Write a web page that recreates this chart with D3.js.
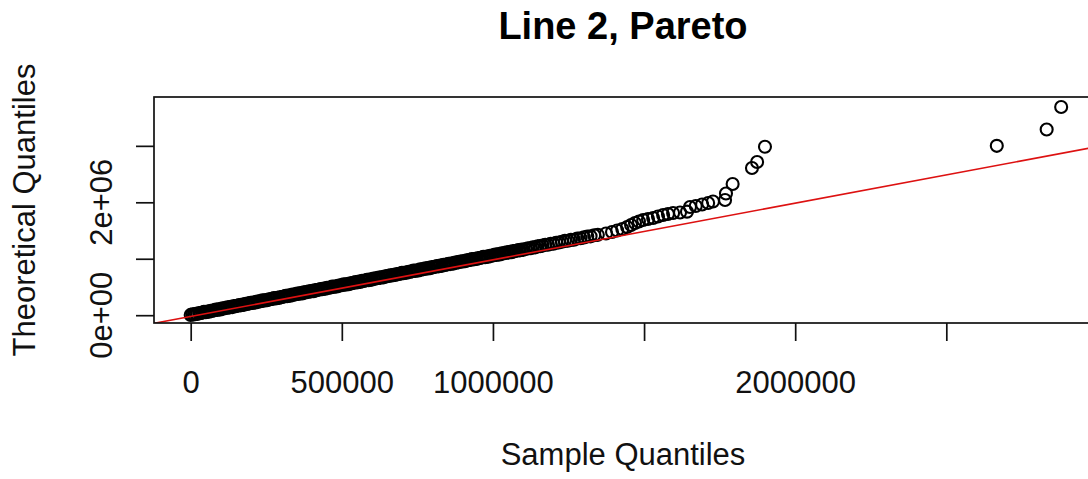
<!DOCTYPE html>
<html><head><meta charset="utf-8">
<script src="https://cdn.jsdelivr.net/npm/d3@7"></script>
<style>body{margin:0;background:#fff} svg{display:block}</style>
</head><body>
<svg id="c" width="1088" height="479"></svg>
<script>
const title = "Line 2, Pareto";
const xLabel = "Sample Quantiles";
const yLabel = "Theoretical Quantiles";
const xTicks = [0, 500000, 1000000, 1500000, 2000000, 2500000, 3000000];
const xTickLabels = ["0", "500000", "1000000", "", "2000000", "", ""];
const yTicks = [0, 1000000, 2000000, 3000000];
const yTickLabels = ["0e+00", "", "2e+06", ""];

// sample quantiles (thousands)
const sampleK = [
0,6,11,17,22,28,33,39,44,50,
55,61,66,72,77,83,88,94,99,105,
110,116,121,127,132,138,143,149,154,160,
165,171,176,182,187,193,198,204,209,215,
220,226,231,237,242,248,253,259,264,270,
275,281,286,292,297,303,308,314,319,325,
330,336,341,347,352,358,363,369,374,380,
385,391,396,402,407,413,418,424,429,435,
440,446,451,457,462,468,473,479,484,490,
495,501,506,512,517,523,528,534,539,545,
550,556,561,567,572,578,583,589,594,600,
605,611,616,622,627,633,638,644,649,655,
660,666,671,677,682,688,693,699,704,710,
715,721,726,732,737,743,748,754,759,765,
770,776,781,787,792,798,803,809,814,820,
825,831,836,842,847,853,858,864,869,875,
880,886,891,897,902,908,913,919,924,930,
935,941,946,952,957,963,968,974,979,985,
990,996,1001,1007,1012,1018,1023,1029,1034,1040,
1045,1051,1056,1062,1067,1073,1078,1084,1089,1095,
1100,1108,1116,1124,1132,1140,1148,1156,1164,1173,
1182,1191,1200,1209,1218,1228,1238,1248,1258,1268,
1279,1290,1301,1312,1323,1335,1347,
1374,1394,1411,1428,1444,1457,1470,1483,1497,1513,
1530,1546,1563,1579,1596,1619,1642,1652,1671,1692,
1712,1728,1768,1771,1793,1857,1874,1900,2667,2832,2880
];
// theoretical quantiles (thousands)
const theoK = [
5,18,12,26,20,40,38,46,58,53,
66,61,80,79,86,100,93,107,101,121,
119,127,140,134,147,143,161,160,167,181,
174,188,183,202,200,209,221,215,228,224,
242,241,249,262,255,270,264,283,282,290,
302,296,310,305,323,323,330,343,337,351,
345,364,363,371,383,378,391,386,405,404,
411,425,418,432,426,446,444,452,465,459,
472,468,486,485,492,506,499,513,508,527,
525,534,546,540,553,549,567,566,574,587,
580,595,589,608,606,615,627,621,635,630,
648,648,655,668,661,676,670,689,688,696,
708,703,716,711,730,729,736,749,743,757,
751,771,769,777,790,784,797,792,811,810,
817,831,824,838,833,852,850,858,871,865,
878,874,892,891,899,912,905,920,914,933,
931,940,952,946,960,955,973,973,980,993,
986,1001,995,1014,1013,1021,1033,1028,1041,1036,
1054,1054,1061,1074,1068,1082,1076,1096,1094,1102,
1114,1109,1122,1117,1136,1135,1142,1156,1149,1163,
1158,1174,1187,1187,1201,1202,1220,1223,1233,1248,
1248,1264,1265,1284,1288,1301,1316,1318,1334,1337,
1358,1364,1378,1394,1397,1415,1423,
1447,1474,1500,1527,1562,1598,1633,1660,1686,1704,
1722,1748,1775,1793,1811,1819,1834,1917,1934,1961,
1988,2014,2041,2156,2324,2608,2714,2985,3000,3290,3688
];
// reference line (qqline): intercept, slope
const lineIntercept = -21700;
const lineSlope = 1.003;

const svg = d3.select("#c");
const L = 154, R = 1092, T = 97, B = 323;
const x = d3.scaleLinear().domain([-121400, 2982000]).range([L, R]);
const y = d3.scaleLinear().domain([-138200, 3865400]).range([B, T]);
const font = "'Liberation Sans', Arial, Helvetica, sans-serif";
const ink = "#111";

svg.append("rect").attr("width", 1088).attr("height", 479).attr("fill", "#fff");

svg.append("defs").append("clipPath").attr("id", "clip")
  .append("rect").attr("x", L).attr("y", T).attr("width", R - L).attr("height", B - T);

const pts = sampleK.map((v, i) => ({sx: v * 1000, ty: theoK[i] * 1000}));

const plot = svg.append("g").attr("clip-path", "url(#clip)");
plot.selectAll("circle").data(pts).join("circle")
  .attr("cx", d => x(d.sx)).attr("cy", d => y(d.ty)).attr("r", 6)
  .attr("fill", "none").attr("stroke", "#000").attr("stroke-width", 2.1);

const [x0, x1] = x.domain();
plot.append("line")
  .attr("x1", x(x0)).attr("y1", y(lineIntercept + lineSlope * x0))
  .attr("x2", x(x1)).attr("y2", y(lineIntercept + lineSlope * x1))
  .attr("stroke", "#dd1111").attr("stroke-width", 1.6);

// box
svg.append("rect").attr("x", L).attr("y", T).attr("width", R - L).attr("height", B - T)
  .attr("fill", "none").attr("stroke", ink).attr("stroke-width", 1.7);

// x axis
const xa = svg.append("g").attr("transform", `translate(0,${B})`)
  .call(d3.axisBottom(x).tickValues(xTicks).tickFormat((d, i) => xTickLabels[i])
    .tickSize(18).tickPadding(30));
xa.select(".domain").remove();
xa.selectAll("line").attr("stroke", ink).attr("stroke-width", 1.7);
xa.selectAll("text").attr("font-family", font).attr("font-size", 31).attr("fill", ink);

// y axis
const ya = svg.append("g").attr("transform", `translate(${L},0)`)
  .call(d3.axisLeft(y).tickValues(yTicks).tickFormat("").tickSize(18));
ya.select(".domain").remove();
ya.selectAll("line").attr("stroke", ink).attr("stroke-width", 1.7);
svg.append("g").selectAll("text").data(yTicks).join("text")
  .attr("transform", d => `translate(112,${y(d)}) rotate(-90)`)
  .attr("text-anchor", "middle").attr("font-family", font).attr("font-size", 31)
  .attr("fill", ink).text((d, i) => yTickLabels[i]);

// titles
const cx = (L + R) / 2;
svg.append("text").attr("x", cx).attr("y", 39).attr("text-anchor", "middle")
  .attr("font-family", font).attr("font-size", 38).attr("font-weight", "bold")
  .attr("fill", "#000").text(title);
svg.append("text").attr("x", cx).attr("y", 465).attr("text-anchor", "middle")
  .attr("font-family", font).attr("font-size", 31).attr("fill", ink).text(xLabel);
svg.append("text").attr("transform", `translate(35,${(T + B) / 2}) rotate(-90)`)
  .attr("text-anchor", "middle").attr("font-family", font).attr("font-size", 31)
  .attr("fill", ink).text(yLabel);
</script>
</body></html>
